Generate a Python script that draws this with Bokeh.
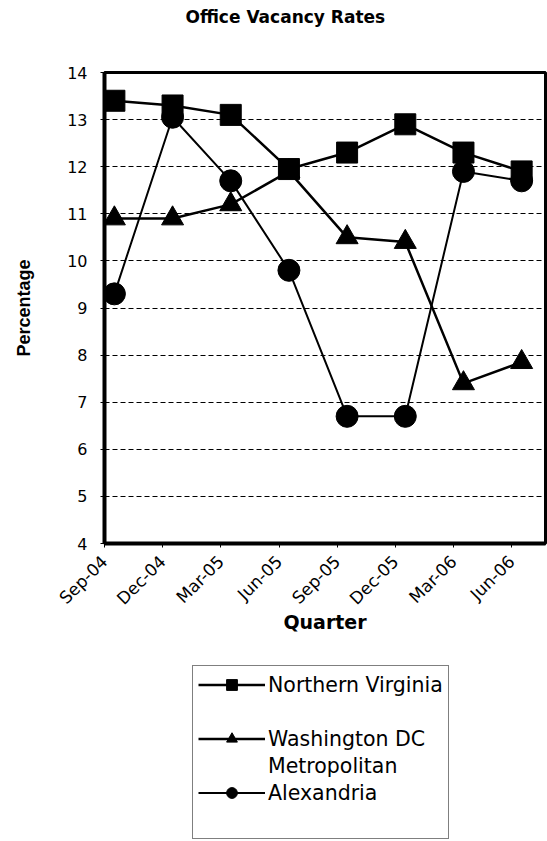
from bokeh.plotting import figure
from bokeh.models import Range1d, FixedTicker, Legend, LegendItem, Label
from bokeh.layouts import column
from bokeh.embed import file_html
from bokeh.resources import INLINE

# ---- data ----
quarters = ["Sep-04", "Dec-04", "Mar-05", "Jun-05", "Sep-05", "Dec-05", "Mar-06", "Jun-06"]
northern_virginia = [13.4, 13.3, 13.1, 11.95, 12.3, 12.9, 12.3, 11.9]
washington_dc = [10.9, 10.9, 11.2, 11.9, 10.5, 10.4, 7.4, 7.85]
alexandria = [9.3, 13.05, 11.7, 9.8, 6.7, 6.7, 11.9, 11.7]
y_ticks = [4, 5, 6, 7, 8, 9, 10, 11, 12, 13, 14]
series_names = ["Northern Virginia", "Washington DC", "Metropolitan", "Alexandria"]

OFFSET = 0.17  # data points sit a little after each quarter tick
xs = [i + OFFSET for i in range(len(quarters))]
series = [northern_virginia, washington_dc, alexandria]

FONT = "DejaVu Sans"
styles = [
    dict(marker="square", size=21, line_width=2.5),
    dict(marker="triangle", size=22, line_width=2.5),
    dict(marker="circle", size=22, line_width=2),
]


def bare_figure(height):
    f = figure(width=547, height=height, output_backend="svg", toolbar_location=None,
               x_range=Range1d(0, 1), y_range=Range1d(0, 1),
               x_axis_type=None, y_axis_type=None,
               min_border_left=0, min_border_right=0, min_border_top=0, min_border_bottom=0)
    f.outline_line_color = None
    f.xgrid.grid_line_color = None
    f.ygrid.grid_line_color = None
    f.background_fill_color = "white"
    f.border_fill_color = "white"
    return f


# ---- title strip ----
tf = bare_figure(36)
tf.add_layout(Label(x=0.41, y=0.55, text="Office Vacancy Rates", text_align="center",
                    text_baseline="middle", text_font=FONT, text_font_style="bold",
                    text_font_size="17px", text_color="black"))

# ---- main chart ----
p = figure(width=547, height=607, output_backend="svg", toolbar_location=None,
           x_range=Range1d(0, 7.58), y_range=Range1d(4, 14),
           min_border_left=104, min_border_right=2, min_border_top=36, min_border_bottom=100)
p.background_fill_color = "white"
p.border_fill_color = "white"
p.outline_line_color = "black"
p.outline_line_width = 3

p.xaxis.ticker = FixedTicker(ticks=list(range(len(quarters))))
p.xaxis.major_label_overrides = {i: q for i, q in enumerate(quarters)}
p.xaxis.major_label_orientation = 0.785398
p.xaxis.major_label_text_font = FONT
p.xaxis.major_label_text_font_size = "17px"
p.xaxis.major_label_text_color = "black"
p.xaxis.major_label_standoff = 11
p.xaxis.axis_line_width = 4
p.xaxis.axis_line_color = "black"
p.xaxis.major_tick_out = 4
p.xaxis.major_tick_in = 0
p.xaxis.major_tick_line_color = "black"
p.xaxis.minor_tick_line_color = None
p.xaxis.axis_label = "Quarter"
p.xaxis.axis_label_text_font = FONT
p.xaxis.axis_label_text_font_style = "bold"
p.xaxis.axis_label_text_font_size = "19px"
p.xaxis.axis_label_text_color = "black"
p.xaxis.axis_label_standoff = -8

p.yaxis.ticker = FixedTicker(ticks=y_ticks)
p.yaxis.major_label_text_font = FONT
p.yaxis.major_label_text_font_size = "16px"
p.yaxis.major_label_text_color = "black"
p.yaxis.major_label_standoff = 13
p.yaxis.axis_line_width = 4
p.yaxis.axis_line_color = "black"
p.yaxis.major_tick_out = 4
p.yaxis.major_tick_in = 0
p.yaxis.major_tick_line_color = "black"
p.yaxis.minor_tick_line_color = None
p.yaxis.axis_label = "Percentage"
p.yaxis.axis_label_text_font = "Liberation Sans"
p.yaxis.axis_label_text_font_style = "bold"
p.yaxis.axis_label_text_font_size = "18px"
p.yaxis.axis_label_text_color = "black"
p.yaxis.axis_label_standoff = 30

p.xgrid.grid_line_color = None
p.ygrid.ticker = FixedTicker(ticks=y_ticks[1:-1])
p.ygrid.grid_line_color = "black"
p.ygrid.grid_line_width = 1
p.ygrid.grid_line_dash = "5 3"

for vals, st in zip(series, styles):
    p.line(xs, vals, line_color="black", line_width=st["line_width"])
    p.scatter(xs, vals, marker=st["marker"], size=st["size"], fill_color="black", line_color="black")

# ---- legend strip (same series, drawn off-range so only the key shows) ----
lg = bare_figure(198)
key_renderers = []
for vals, st in zip(series, styles):
    ln = lg.line(xs, vals, line_color="black", line_width=st["line_width"])
    mk = lg.scatter(xs, vals, marker=st["marker"], fill_color="black", line_color="black")
    key_renderers.append([ln, mk])
blank = lg.line(xs, northern_virginia, line_alpha=0)

legend = Legend(items=[
    LegendItem(label=series_names[0], renderers=key_renderers[0]),
    LegendItem(label=" ", renderers=[blank]),
    LegendItem(label=series_names[1], renderers=key_renderers[1]),
    LegendItem(label=series_names[2], renderers=[blank]),
    LegendItem(label=series_names[3], renderers=key_renderers[2]),
    LegendItem(label=" ", renderers=[blank]),
], location=(88, 2))
legend.label_text_font = FONT
legend.label_text_font_size = "20.5px"
legend.label_text_color = "black"
legend.label_height = 27
legend.glyph_height = 27
legend.glyph_width = 67
legend.label_standoff = 3
legend.spacing = 0
legend.padding = 5
legend.margin = 0
legend.border_line_color = "black"
legend.border_line_width = 1
legend.background_fill_color = "white"
legend.background_fill_alpha = 1
lg.add_layout(legend, "center")

layout = column(tf, p, lg, spacing=0)
open("out.html", "w").write(file_html(layout, INLINE))
